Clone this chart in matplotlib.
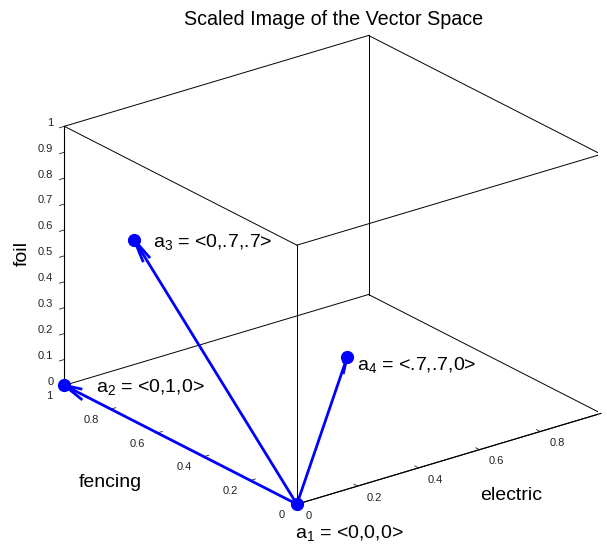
import matplotlib
matplotlib.use('Agg')
import matplotlib.pyplot as plt
import numpy as np
from matplotlib.transforms import ScaledTranslation

plt.rcParams['font.family'] = ['Liberation Sans', 'DejaVu Sans']
plt.rcParams['mathtext.fontset'] = 'custom'
plt.rcParams['mathtext.rm'] = 'Liberation Sans'
plt.rcParams['mathtext.it'] = 'Liberation Sans:italic'

# ---- data ----
point_names = ['a1', 'a2', 'a3', 'a4']
electric = [0.0, 0.0, 0.0, 0.7]
fencing = [0.0, 1.0, 0.7, 0.7]
foil = [0.0, 0.0, 0.7, 0.0]
point_labels = ['a$_1$ = <0,0,0>', 'a$_2$ = <0,1,0>', 'a$_3$ = <0,.7,.7>', 'a$_4$ = <.7,.7,0>']
xticks = [0, 0.2, 0.4, 0.6, 0.8]
xticklabels = ['0', '0.2', '0.4', '0.6', '0.8']
yticks = [0, 0.2, 0.4, 0.6, 0.8, 1]
yticklabels = ['0', '0.2', '0.4', '0.6', '0.8', '1']
zticks = [0, 0.1, 0.2, 0.3, 0.4, 0.5, 0.6, 0.7, 0.8, 0.9, 1]
zticklabels = ['0', '0.1', '0.2', '0.3', '0.4', '0.5', '0.6', '0.7', '0.8', '0.9', '1']
xlim = (0, 1)
ylim = (0, 1)
zlim = (0, 1)

W, H = 607, 545
fig = plt.figure(figsize=(W / 100, H / 100), dpi=100)
S = 545
cx, cy = 325.35, 545 - 277.2
ax = fig.add_axes([(cx - S / 2) / W, (cy - S / 2) / H, S / W, S / H], projection='3d', proj_type='ortho')
ax.view_init(elev=23, azim=-127.4)
ax.set_box_aspect((1, 1, 0.735), zoom=1.087)
ax.set_xlim(*xlim)
ax.set_ylim(*ylim)
ax.set_zlim(*zlim)
ax.grid(False)
for axis in (ax.xaxis, ax.yaxis, ax.zaxis):
    axis.set_pane_color((1, 1, 1, 0))
    axis.pane.set_edgecolor('none')
    axis.line.set_color('black')
    axis.line.set_linewidth(0.8)
    axis._axinfo['tick']['inward_factor'] = 0.0
    axis._axinfo['tick']['outward_factor'] = 0.2
    axis._axinfo['tick']['linewidth'] = {True: 0.6, False: 0.5}
    axis.label.set_visible(False)
    axis.offsetText.set_visible(False)
ax.zaxis._axinfo['tick']['inward_factor'] = 0.2
ax.zaxis._axinfo['tick']['outward_factor'] = 0.0

ax.set_xticks(xticks, xticklabels, ha='left', va='baseline')
ax.set_yticks(yticks, yticklabels, ha='right', va='baseline')
ax.set_zticks(zticks, zticklabels, ha='right', va='baseline')
ax.tick_params(labelsize=8, colors='#222222')
ax.xaxis.set_tick_params(pad=0)
ax.yaxis.set_tick_params(pad=0)
ax.zaxis.set_tick_params(pad=-3.8)

# box edges
x0, x1 = xlim
y0, y1 = ylim
z0, z1 = zlim
edges = [
    ((x0, x1), (y0, y0), (z0, z0)), ((x0, x1), (y1, y1), (z0, z0)),
    ((x0, x1), (y0, y0), (z1, z1)), ((x0, x1), (y1, y1), (z1, z1)),
    ((x0, x0), (y0, y1), (z0, z0)), ((x1, x1), (y0, y1), (z0, z0)),
    ((x0, x0), (y0, y1), (z1, z1)), ((x1, x1), (y0, y1), (z1, z1)),
    ((x0, x0), (y0, y0), (z0, z1)), ((x1, x1), (y0, y0), (z0, z1)),
    ((x0, x0), (y1, y1), (z0, z1)), ((x1, x1), (y1, y1), (z0, z1)),
]
for ex, ey, ez in edges:
    ax.plot(ex, ey, ez, color='black', lw=0.7)

# arrows from a1
ox, oy, oz = electric[0], fencing[0], foil[0]
for i in range(1, len(electric)):
    ax.quiver(ox, oy, oz, electric[i] - ox, fencing[i] - oy, foil[i] - oz,
              color='blue', lw=2, arrow_length_ratio=0.08)
ax.plot(electric, fencing, foil, 'o', color='blue', ms=8.5, ls='none')

offsets = [(-2, -33.5), (31.7, -6.7), (18.7, -7.4), (10.3, -12.3)]
for i, lab in enumerate(point_labels):
    dx, dy = offsets[i]
    tr = ax.transData + ScaledTranslation(dx / 100, dy / 100, fig.dpi_scale_trans)
    ax.text(electric[i], fencing[i], foil[i], lab, transform=tr, fontsize=14,
            ha='left', va='baseline', color='black')

fig.text(480 / W, 1 - 500 / H, 'electric', ha='left', va='baseline', fontsize=14)
fig.text(78.3 / W, 1 - 486.7 / H, 'fencing', ha='left', va='baseline', fontsize=14)
fig.text(27 / W, 1 - 254 / H, 'foil', ha='center', va='baseline', rotation=90,
         rotation_mode='anchor', fontsize=14)

fig.text(333.5 / W, 1 - 25 / H, 'Scaled Image of the Vector Space', ha='center',
         va='baseline', fontsize=14.2)

fig.savefig('out.png', dpi=100)
